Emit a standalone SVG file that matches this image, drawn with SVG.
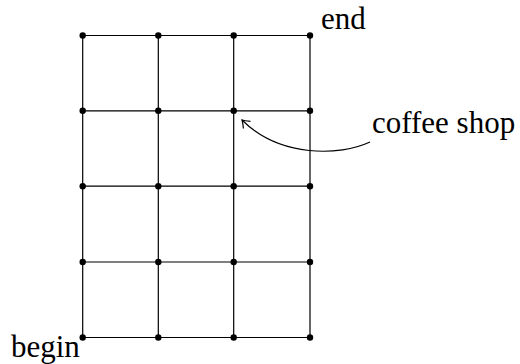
<svg xmlns="http://www.w3.org/2000/svg" width="520" height="364" viewBox="0 0 520 364">
<style>
.ln{stroke:#000;stroke-width:1.2;fill:none}
.dot{fill:#000}
.lbl{font-family:"Liberation Serif","Times New Roman",serif;font-size:31px;fill:#000}
</style>
<defs>
<marker id="arr" viewBox="-10 -6 12 12" markerWidth="12" markerHeight="12" refX="0" refY="0" orient="auto" markerUnits="userSpaceOnUse">
<path d="M-7,-5 Q-2,-1 0,0 Q-2,1 -7,5" fill="none" stroke="#000" stroke-width="1.2"/>
</marker>
</defs>
<rect width="520" height="364" fill="#fff"/>
<g id="connectors">
<path class="ln" d="M82.7,35.5V337.5M158.3,35.5V337.5M233.7,35.5V337.5M310,35.5V337.5"/>
<path class="ln" d="M82.7,35.5H310M82.7,110.8H310M82.7,186.2H310M82.7,262H310M82.7,337.5H310"/>
<path id="arrow" class="ln" d="M370,142 C340,156 280,158 242,120" marker-end="url(#arr)"/>
</g>
<g id="n0_0"><circle class="dot" cx="82.7" cy="35.5" r="3.2"/></g>
<g id="n1_0"><circle class="dot" cx="158.3" cy="35.5" r="3.2"/></g>
<g id="n2_0"><circle class="dot" cx="233.7" cy="35.5" r="3.2"/></g>
<g id="n3_0"><circle class="dot" cx="310" cy="35.5" r="3.2"/></g>
<g id="n0_1"><circle class="dot" cx="82.7" cy="110.8" r="3.2"/></g>
<g id="n1_1"><circle class="dot" cx="158.3" cy="110.8" r="3.2"/></g>
<g id="n2_1"><circle class="dot" cx="233.7" cy="110.8" r="3.2"/></g>
<g id="n3_1"><circle class="dot" cx="310" cy="110.8" r="3.2"/></g>
<g id="n0_2"><circle class="dot" cx="82.7" cy="186.2" r="3.2"/></g>
<g id="n1_2"><circle class="dot" cx="158.3" cy="186.2" r="3.2"/></g>
<g id="n2_2"><circle class="dot" cx="233.7" cy="186.2" r="3.2"/></g>
<g id="n3_2"><circle class="dot" cx="310" cy="186.2" r="3.2"/></g>
<g id="n0_3"><circle class="dot" cx="82.7" cy="262" r="3.2"/></g>
<g id="n1_3"><circle class="dot" cx="158.3" cy="262" r="3.2"/></g>
<g id="n2_3"><circle class="dot" cx="233.7" cy="262" r="3.2"/></g>
<g id="n3_3"><circle class="dot" cx="310" cy="262" r="3.2"/></g>
<g id="n0_4"><circle class="dot" cx="82.7" cy="337.5" r="3.2"/></g>
<g id="n1_4"><circle class="dot" cx="158.3" cy="337.5" r="3.2"/></g>
<g id="n2_4"><circle class="dot" cx="233.7" cy="337.5" r="3.2"/></g>
<g id="n3_4"><circle class="dot" cx="310" cy="337.5" r="3.2"/></g>
<g id="label-begin"><text class="lbl" x="11" y="356.5">begin</text></g>
<g id="label-end"><text class="lbl" x="321" y="28.5">end</text></g>
<g id="label-coffee"><text class="lbl" x="372" y="133.3">coffee shop</text></g>
</svg>
